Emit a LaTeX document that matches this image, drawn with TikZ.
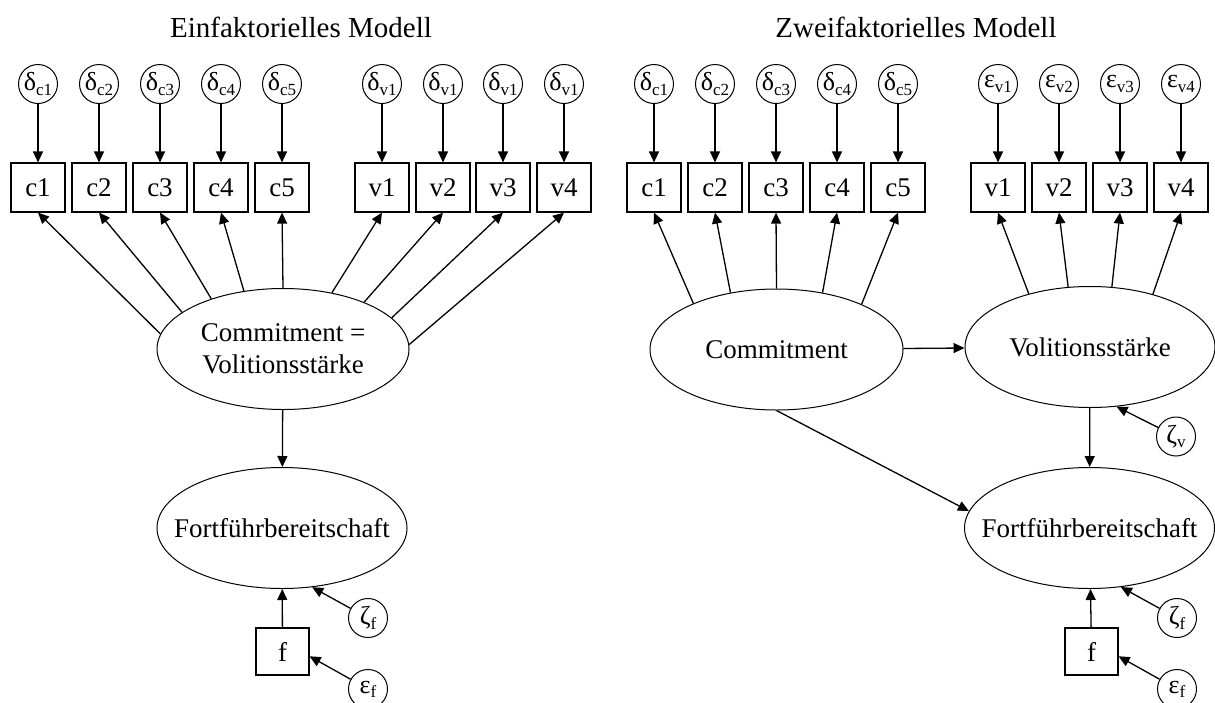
\documentclass[tikz,border=0pt]{standalone}
\usepackage{fontspec}
\setmainfont{Liberation Serif}
\usetikzlibrary{shapes.geometric,arrows.meta}

\newcommand{\errsub}[1]{\raisebox{-0.35ex}{\fontsize{17}{17}\selectfont #1}}

\begin{document}
\begin{tikzpicture}[x=1pt,y=-1pt,
    obs/.style={draw,line width=1.2pt,minimum width=54pt,minimum height=49pt,inner sep=0pt,font=\fontsize{27}{30}\selectfont},
    lat/.style={draw,ellipse,line width=1pt,minimum width=252pt,minimum height=121pt,inner sep=0pt,align=center,font=\fontsize{27}{32}\selectfont},
    err/.style={draw,circle,line width=1pt,minimum size=39pt,inner sep=0pt,font=\fontsize{26}{26}\selectfont},
    arr/.style={-{Triangle[length=11pt,width=10pt]},line width=1.3pt},
    title/.style={anchor=base,font=\fontsize{29}{32}\selectfont}]
        \useasboundingbox (0,0) rectangle (1215,702);
        \clip (0,0) rectangle (1215,702);

        % Titles
        \node[title] (tone) at (301,37) {Einfaktorielles Modell};
        \node[title] (ttwo) at (916,37) {Zweifaktorielles Modell};

        %%% Einfaktorielles Modell
        % Messfehler
        \node[err] (dc1) at (38,84) {δ\errsub{c1}};
        \node[err] (dc2) at (99,84) {δ\errsub{c2}};
        \node[err] (dc3) at (160,84) {δ\errsub{c3}};
        \node[err] (dc4) at (221,84) {δ\errsub{c4}};
        \node[err] (dc5) at (282,84) {δ\errsub{c5}};
        \node[err] (dv1) at (382,84) {δ\errsub{v1}};
        \node[err] (dv2) at (443,84) {δ\errsub{v1}};
        \node[err] (dv3) at (503,84) {δ\errsub{v1}};
        \node[err] (dv4) at (564,84) {δ\errsub{v1}};

        % Indikatoren
        \node[obs] (c1) at (38,187.5) {c1};
        \node[obs] (c2) at (99,187.5) {c2};
        \node[obs] (c3) at (160,187.5) {c3};
        \node[obs] (c4) at (221,187.5) {c4};
        \node[obs] (c5) at (282,187.5) {c5};
        \node[obs] (v1) at (382,187.5) {v1};
        \node[obs] (v2) at (443,187.5) {v2};
        \node[obs] (v3) at (503,187.5) {v3};
        \node[obs] (v4) at (564,187.5) {v4};

        \draw[arr] (dc1) -- (c1);
        \draw[arr] (dc2) -- (c2);
        \draw[arr] (dc3) -- (c3);
        \draw[arr] (dc4) -- (c4);
        \draw[arr] (dc5) -- (c5);
        \draw[arr] (dv1) -- (v1);
        \draw[arr] (dv2) -- (v2);
        \draw[arr] (dv3) -- (v3);
        \draw[arr] (dv4) -- (v4);

        % Faktor
        \node[lat] (cv) at (283,349) {Commitment =\\Volitionsstärke};
        \draw[arr] (cv.173.6) -- (c1.south);
        \draw[arr] (cv.160.9) -- (c2.south);
        \draw[arr] (cv.145.6) -- (c3.south);
        \draw[arr] (cv.124.6) -- (c4.south);
        \draw[arr] (cv.90) -- (c5.south);
        \draw[arr] (cv.49.3) -- (v1.south);
        \draw[arr] (cv.30.6) -- (v2.south);
        \draw[arr] (cv.16.4) -- (v3.south);
        \draw[arr] (cv.2.7) -- (v4.south);

        % Kriterium
        \node[lat,minimum width=250pt,inner xsep=-25pt] (fortl) at (282,528) {Fortführbereitschaft};
        \draw[arr] (cv) -- (fortl);
        \node[obs,minimum width=53pt,minimum height=47pt] (fl) at (282.5,651.5) {f};
        \node[err] (zfl) at (368,618) {ζ\errsub{f}};
        \node[err] (efl) at (368,689) {ε\errsub{f}};
        \draw[arr] (fl) -- (fortl);
        \draw[arr] (zfl) -- (fortl.-63);
        \draw[arr] (efl) -- (fl.-10);

        %%% Zweifaktorielles Modell
        % Messfehler
        \node[err] (rdc1) at (654,84) {δ\errsub{c1}};
        \node[err] (rdc2) at (715,84) {δ\errsub{c2}};
        \node[err] (rdc3) at (776,84) {δ\errsub{c3}};
        \node[err] (rdc4) at (837,84) {δ\errsub{c4}};
        \node[err] (rdc5) at (898,84) {δ\errsub{c5}};
        \node[err] (rev1) at (998,84) {ε\errsub{v1}};
        \node[err] (rev2) at (1059,84) {ε\errsub{v2}};
        \node[err] (rev3) at (1120,84) {ε\errsub{v3}};
        \node[err] (rev4) at (1181,84) {ε\errsub{v4}};

        % Indikatoren
        \node[obs] (rc1) at (654,187.5) {c1};
        \node[obs] (rc2) at (715,187.5) {c2};
        \node[obs] (rc3) at (776,187.5) {c3};
        \node[obs] (rc4) at (837,187.5) {c4};
        \node[obs] (rc5) at (898,187.5) {c5};
        \node[obs] (rv1) at (998,187.5) {v1};
        \node[obs] (rv2) at (1059,187.5) {v2};
        \node[obs] (rv3) at (1120,187.5) {v3};
        \node[obs] (rv4) at (1181,187.5) {v4};

        \draw[arr] (rdc1) -- (rc1);
        \draw[arr] (rdc2) -- (rc2);
        \draw[arr] (rdc3) -- (rc3);
        \draw[arr] (rdc4) -- (rc4);
        \draw[arr] (rdc5) -- (rc5);
        \draw[arr] (rev1) -- (rv1);
        \draw[arr] (rev2) -- (rv2);
        \draw[arr] (rev3) -- (rv3);
        \draw[arr] (rev4) -- (rv4);

        % Faktoren
        \node[lat,minimum width=253pt] (comm) at (776.5,349.5) {Commitment};
        \node[lat,minimum width=250pt] (vol) at (1090,347) {Volitionsstärke};
        \draw[arr] (comm.151.5) -- (rc1.south);
        \draw[arr] (comm.129.6) -- (rc2.south);
        \draw[arr] (comm.90) -- (rc3.south);
        \draw[arr] (comm.51) -- (rc4.south);
        \draw[arr] (comm.28.5) -- (rc5.south);
        \draw[arr] (vol.139.5) -- (rv1.south);
        \draw[arr] (vol.110.4) -- (rv2.south);
        \draw[arr] (vol.70.4) -- (rv3.south);
        \draw[arr] (vol.40.5) -- (rv4.south);
        \draw[arr] (comm) -- (vol);
        \node[err] (zv) at (1176,436.5) {ζ\errsub{v}};
        \draw[arr] (zv) -- (vol.-66);

        % Kriterium
        \node[lat,minimum width=250pt,inner xsep=-25pt] (fortr) at (1089.5,528) {Fortführbereitschaft};
        \draw[arr] (vol) -- (fortr);
        \draw[arr] (comm.south) -- (fortr.172.4);
        \node[obs,minimum width=53pt,minimum height=47pt] (fr) at (1091.5,651.5) {f};
        \node[err] (zfr) at (1177,618) {ζ\errsub{f}};
        \node[err] (efr) at (1177,689) {ε\errsub{f}};
        \draw[arr] (fr) -- (fortr);
        \draw[arr] (zfr) -- (fortr.-62);
        \draw[arr] (efr) -- (fr.-10);
\end{tikzpicture}
\end{document}
